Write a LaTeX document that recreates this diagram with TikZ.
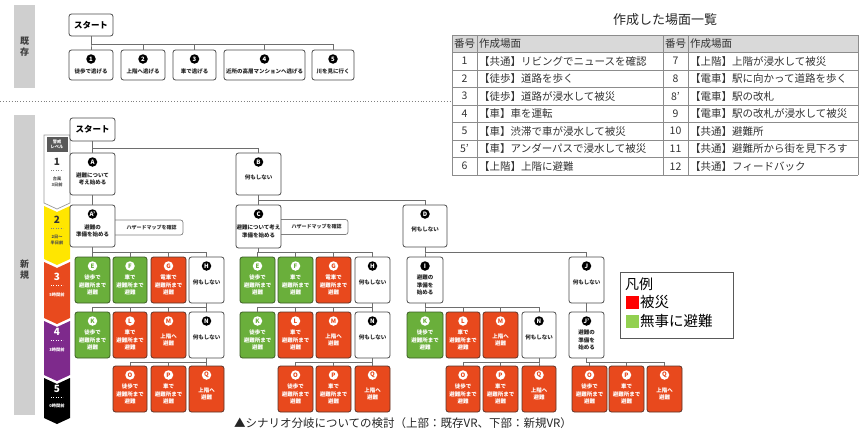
\documentclass[tikz,border=0pt]{standalone}
\usepackage{fontspec}
\setmainfont{Noto Sans CJK JP}
\usetikzlibrary{calc}
\definecolor{lineg}{HTML}{4A4A4A}
\definecolor{conng}{HTML}{6E6E6E}
\definecolor{redf}{HTML}{E8491D}
\definecolor{redline}{HTML}{5A3328}
\definecolor{greenf}{HTML}{6AAF3B}
\definecolor{greenline}{HTML}{3A5A24}
\definecolor{barg}{HTML}{CFCFCF}
\definecolor{lvyellow}{HTML}{FFE600}
\definecolor{lvred}{HTML}{E84A1E}
\definecolor{lvpurple}{HTML}{7E2A8C}
\definecolor{lgred}{HTML}{FF0000}
\definecolor{lggreen}{HTML}{92D050}
\definecolor{thead}{HTML}{D9D9D9}
\newcommand\bx[9]{%
 \node[#2, minimum width={(#5-#3)*1pt}, minimum height={(#6-#4)*1pt}] (#1) at ({(#3+#5)/2},{(#4+#6)/2}) {};
 \node[#2c] (#1c) at ($(#1.north)+(0,9)$) {#7};
 \node[#2t] (#1t) at ($(#1.center)+(0,#9)$) {#8};
}
\newcommand\lk[3]{\draw[conn] (#1.south) |- ($(#2.north)+(0,-#3)$) -- (#2.north);}
\begin{document}
\begin{tikzpicture}[x=1pt,y=-1pt,
 boxbase/.style={rounded corners=2.5pt, line width=0.8pt, inner sep=0pt, outer sep=0pt},
 wb/.style={boxbase, draw=lineg, fill=white},
 rb/.style={boxbase, draw=redline, fill=redf},
 gb/.style={boxbase, draw=greenline, fill=greenf},
 circ/.style={circle, inner sep=0pt, minimum size=9.5pt, font=\bfseries\fontsize{6}{6}\selectfont},
 wbc/.style={circ, fill=black, text=white},
 rbc/.style={circ, fill=white, text=redf},
 gbc/.style={circ, fill=white, text=greenf},
 btxt/.style={align=center, inner sep=0pt, font=\bfseries\fontsize{5.5}{7.8}\selectfont},
 wbt/.style={btxt, text=black!85},
 rbt/.style={btxt, text=white},
 gbt/.style={btxt, text=white},
 conn/.style={draw=conng, line width=0.9pt},
 startbox/.style={wb, font=\bfseries\fontsize{8.5}{9}\selectfont},
 hazard/.style={boxbase, draw=lineg!70, line width=0.7pt, fill=white, font=\bfseries\fontsize{5}{6}\selectfont, text=black!80},
 lvnum/.style={font=\bfseries\fontsize{10}{10}\selectfont, inner sep=0pt},
 lvtxt/.style={font=\bfseries\fontsize{4.2}{5.5}\selectfont, align=center, inner sep=0pt},
 tgrid/.style={draw=black!45, line width=0.6pt},
 tnum/.style={font=\fontsize{10.5}{11}\selectfont, inner sep=0pt, text=black!80},
 ttxt/.style={font=\fontsize{10.5}{11}\selectfont, inner sep=0pt, anchor=west, text=black!80},
]
\useasboundingbox (0,0) rectangle (860,431);

% ===== existing (top) =====
\fill[barg] (14,5) rectangle (35,88);
\node[font=\bfseries\fontsize{9}{11}\selectfont, align=center, text=black!75] (kizon) at (24.5,47) {既\\存};
\node[startbox, minimum width=44pt, minimum height=22pt] (s0) at (91,25) {スタート};
\bx{t1}{wb}{69}{50}{113}{80}{1}{徒歩で逃げる}{6}
\bx{t2}{wb}{121}{50}{165}{80}{2}{上階へ逃げる}{6}
\bx{t3}{wb}{173}{50}{216}{80}{3}{車で逃げる}{6}
\bx{t4}{wb}{224}{50}{305}{80}{4}{近所の高層マンションへ逃げる}{6}
\bx{t5}{wb}{312}{50}{354}{80}{5}{川を見に行く}{6}
\foreach \c in {t1,t2,t3,t4,t5} {\lk{s0}{\c}{6}}

\draw[black!50, dotted, line width=0.9pt] (0,101) -- (450,101);

% ===== table =====
\node[font=\fontsize{13}{14}\selectfont, text=black!85] (ttl) at (665,20) {作成した場面一覧};
\fill[thead] (452,35) rectangle (858,52.5);
\node[tnum] (h1) at (464.5,43.75) {番号};
\node[ttxt] (h2) at (479,43.75) {作成場面};
\node[tnum] (h3) at (675.5,43.75) {番号};
\node[ttxt] (h4) at (690,43.75) {作成場面};
\foreach \n/\t [count=\i] in {1/【共通】リビングでニュースを確認,2/【徒歩】道路を歩く,3/【徒歩】道路が浸水して被災,4/【車】車を運転,5/【車】渋滞で車が浸水して被災,5'/【車】アンダーパスで浸水して被災,6/【上階】上階に避難}{
 \node[tnum] (ln\i) at (464.5,{35+17.5*(\i+0.5)}) {\n};
 \node[ttxt] (lt\i) at (479,{35+17.5*(\i+0.5)}) {\t};
}
\foreach \n/\t [count=\i] in {7/【上階】上階が浸水して被災,8/【電車】駅に向かって道路を歩く,8'/【電車】駅の改札,9/【電車】駅の改札が浸水して被災,10/【共通】避難所,11/【共通】避難所から街を見下ろす,12/【共通】フィードバック}{
 \node[tnum] (rn\i) at (675.5,{35+17.5*(\i+0.5)}) {\n};
 \node[ttxt] (rt\i) at (690,{35+17.5*(\i+0.5)}) {\t};
}
\foreach \i in {0,...,8} {\draw[tgrid] (452,{35+17.5*\i}) -- (858,{35+17.5*\i});}
\foreach \x in {452,477,663,688,858} {\draw[tgrid] (\x,35) -- (\x,175);}

% ===== new (bottom) =====
\fill[barg] (14,115) rectangle (35,415);
\node[font=\bfseries\fontsize{9}{11}\selectfont, align=center, text=black!75] (shinki) at (24.5,270) {新\\規};

% level chevrons
\draw[black!40, fill=white, line width=0.7pt] (44,135) -- (70,135) -- (70,203) -- (57,209) -- (44,203) -- cycle;
\fill[black!65] (46.5,137) rectangle (67.5,152);
\node[lvtxt, text=white] (lvh) at (57,144.5) {警戒\\レベル};
\node[lvnum, text=black!80] (lv1) at (57,162) {1};
\draw[black!50, dotted] (51,170) -- (63,170);
\node[lvtxt, text=black!70] (lv1t) at (57,182) {台風\\3日前};
\fill[lvyellow] (44,206) -- (57,212) -- (70,206) -- (70,259) -- (57,265) -- (44,259) -- cycle;
\node[lvnum, text=black!80] (lv2) at (57,220) {2};
\draw[black!50, dotted] (51,228) -- (63,228);
\node[lvtxt, text=black!70] (lv2t) at (57,240) {2日〜\\半日前};
\fill[lvred] (44,262) -- (57,268) -- (70,262) -- (70,318) -- (57,324) -- (44,318) -- cycle;
\node[lvnum, text=white] (lv3) at (57,277) {3};
\draw[white, dotted] (51,285) -- (63,285);
\node[lvtxt, text=white] (lv3t) at (57,295) {5時間前};
\fill[lvpurple] (44,321) -- (57,327) -- (70,321) -- (70,375) -- (57,381) -- (44,375) -- cycle;
\node[lvnum, text=white] (lv4) at (57,332) {4};
\draw[white, dotted] (51,340) -- (63,340);
\node[lvtxt, text=white] (lv4t) at (57,350) {3時間前};
\fill[black] (44,378) -- (57,384) -- (70,378) -- (70,418) -- (57,424) -- (44,418) -- cycle;
\node[lvnum, text=white] (lv5) at (57,389) {5};
\draw[white, dotted] (51,397) -- (63,397);
\node[lvtxt, text=white] (lv5t) at (57,406) {0時間前};

% hazard map boxes (behind)
\node[hazard, minimum width=73pt, minimum height=15pt, text width=60pt, align=right] (hz1) at (146.5,227.5) {ハザードマップを確認};
\node[hazard, minimum width=73pt, minimum height=15pt, text width=60pt, align=right] (hz2) at (311.5,227) {ハザードマップを確認};

% tree
\node[startbox, minimum width=45pt, minimum height=23pt] (start) at (92.5,129.5) {スタート};
\bx{A}{wb}{70}{153}{115}{195}{A}{避難について\\考え始める}{5}
\bx{Ap}{wb}{70}{205}{115}{247}{A'}{避難の\\準備を始める}{5}
\bx{B}{wb}{236}{153}{281}{195}{B}{何もしない}{3}
\bx{C}{wb}{236}{205}{281}{248}{C}{避難について考え\\準備を始める}{5}
\bx{D}{wb}{403}{205}{447}{247}{D}{何もしない}{3}
% A subtree
\bx{aE}{gb}{75}{257}{110}{303}{E}{徒歩で\\避難所まで\\避難}{5}
\bx{aF}{gb}{113}{257}{147}{303}{F}{車で\\避難所まで\\避難}{5}
\bx{aG}{rb}{151}{257}{186}{303}{G}{電車で\\避難所まで\\避難}{5}
\bx{aH}{wb}{189}{257}{224}{303}{H}{何もしない}{2}
\bx{aK}{gb}{75}{312}{110}{358}{K}{徒歩で\\避難所まで\\避難}{5}
\bx{aL}{rb}{113}{312}{147}{358}{L}{車で\\避難所まで\\避難}{5}
\bx{aM}{rb}{151}{312}{186}{358}{M}{上階へ\\避難}{5}
\bx{aN}{wb}{189}{312}{224}{358}{N}{何もしない}{2}
\bx{aO}{rb}{113}{366}{147}{412}{O}{徒歩で\\避難所まで\\避難}{5}
\bx{aP}{rb}{151}{366}{186}{412}{P}{車で\\避難所まで\\避難}{5}
\bx{aQ}{rb}{189}{366}{224}{412}{Q}{上階へ\\避難}{5}
% C subtree
\bx{cE}{gb}{240}{257}{275}{303}{E}{徒歩で\\避難所まで\\避難}{5}
\bx{cF}{gb}{278}{257}{313}{303}{F}{車で\\避難所まで\\避難}{5}
\bx{cG}{rb}{316}{257}{351}{303}{G}{電車で\\避難所まで\\避難}{5}
\bx{cH}{wb}{355}{257}{390}{303}{H}{何もしない}{2}
\bx{cK}{gb}{240}{312}{275}{358}{K}{徒歩で\\避難所まで\\避難}{5}
\bx{cL}{rb}{278}{312}{313}{358}{L}{車で\\避難所まで\\避難}{5}
\bx{cM}{rb}{316}{312}{351}{358}{M}{上階へ\\避難}{5}
\bx{cN}{wb}{355}{312}{390}{358}{N}{何もしない}{2}
\bx{cO}{rb}{278}{366}{313}{412}{O}{徒歩で\\避難所まで\\避難}{5}
\bx{cP}{rb}{316}{366}{351}{412}{P}{車で\\避難所まで\\避難}{5}
\bx{cQ}{rb}{355}{366}{390}{412}{Q}{上階へ\\避難}{5}
% D subtree
\bx{I}{wb}{407}{257}{443}{303}{I}{避難の\\準備を\\始める}{5}
\bx{J}{wb}{569}{257}{604}{303}{J}{何もしない}{2}
\bx{iK}{gb}{407}{312}{443}{358}{K}{徒歩で\\避難所まで\\避難}{5}
\bx{iL}{rb}{446}{312}{480}{358}{L}{車で\\避難所まで\\避難}{5}
\bx{iM}{rb}{483}{312}{518}{358}{M}{上階へ\\避難}{5}
\bx{iN}{wb}{522}{312}{556}{358}{N}{何もしない}{2}
\bx{iO}{rb}{446}{366}{480}{412}{O}{徒歩で\\避難所まで\\避難}{5}
\bx{iP}{rb}{483}{366}{518}{412}{P}{車で\\避難所まで\\避難}{5}
\bx{iQ}{rb}{522}{366}{556}{412}{Q}{上階へ\\避難}{5}
\bx{Jp}{wb}{569}{312}{604}{358}{J'}{避難の\\準備を\\始める}{5}
\bx{jO}{rb}{572}{366}{607}{412}{O}{徒歩で\\避難所まで\\避難}{5}
\bx{jP}{rb}{609}{366}{644}{412}{P}{車で\\避難所まで\\避難}{5}
\bx{jQ}{rb}{647}{366}{682}{412}{Q}{上階へ\\避難}{5}

% connectors
\lk{start}{A}{5}
\lk{start}{B}{5}
\lk{A}{Ap}{5}
\lk{B}{C}{5}
\lk{B}{D}{5}
\foreach \c in {aE,aF,aG,aH} {\lk{Ap}{\c}{5}}
\foreach \c in {aK,aL,aM,aN} {\lk{aH}{\c}{4.5}}
\foreach \c in {aO,aP,aQ} {\lk{aN}{\c}{4}}
\foreach \c in {cE,cF,cG,cH} {\lk{C}{\c}{5}}
\foreach \c in {cK,cL,cM,cN} {\lk{cH}{\c}{4.5}}
\foreach \c in {cO,cP,cQ} {\lk{cN}{\c}{4}}
\lk{D}{I}{5}
\lk{D}{J}{5}
\foreach \c in {iK,iL,iM,iN} {\lk{I}{\c}{4.5}}
\foreach \c in {iO,iP,iQ} {\lk{iN}{\c}{4}}
\lk{J}{Jp}{4.5}
\foreach \c in {jO,jP,jQ} {\lk{Jp}{\c}{4}}

% legend
\draw[black!65, line width=1pt] (620,272) rectangle (733,338);
\node[font=\fontsize{14}{15}\selectfont, anchor=west, inner sep=0pt] (lgt) at (625,284) {凡例};
\fill[lgred] (626,296) rectangle (639,309);
\node[font=\fontsize{14.5}{15}\selectfont, anchor=west, inner sep=0pt] (lg1) at (640,302.5) {被災};
\fill[lggreen] (626,315) rectangle (639,328);
\node[font=\fontsize{14.5}{15}\selectfont, anchor=west, inner sep=0pt] (lg2) at (640,321.5) {無事に避難};

% caption
\node[font=\fontsize{11.5}{12}\selectfont, text=black!85, inner sep=0pt] (cap) at (403,423) {▲シナリオ分岐についての検討（上部：既存VR、下部：新規VR）};
\end{tikzpicture}
\end{document}
